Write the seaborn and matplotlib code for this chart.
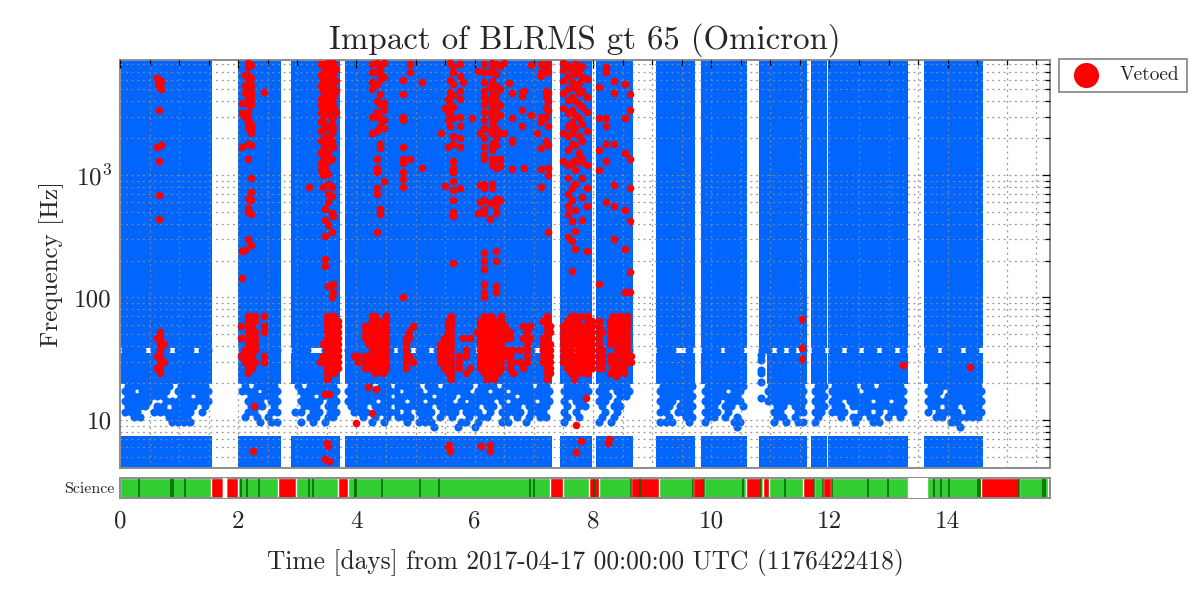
import matplotlib
matplotlib.use("Agg")
import matplotlib.pyplot as plt
import pandas as pd
import seaborn as sns
from matplotlib.ticker import FixedLocator, NullFormatter

# ---- blue triggers: time segments with data (days) ----
seg_start = [0.02, 2.00, 2.90, 3.80, 7.45, 8.05, 9.07, 9.83, 10.80, 11.69, 11.98, 13.60]
seg_end = [1.56, 2.72, 3.72, 7.31, 7.98, 8.68, 9.73, 10.60, 11.62, 11.95, 13.33, 14.60]
mid_start = [0.02, 2.00, 2.90, 3.80, 7.45, 8.05, 9.07, 9.83, 10.95, 11.69, 11.98, 13.60]
mid_end = [1.56, 2.72, 3.72, 7.31, 7.98, 8.68, 9.73, 10.60, 11.62, 11.95, 13.33, 14.60]

top_band_hz = (39.0, 9500)
mid_band_hz = (19.6, 35.5)
low_band_hz = (4.0, 7.4)

# occupancy of the patchy part, one row per frequency, 0.1 day per character
patchy_hz = [37, 19, 17.2, 15.6, 14.2, 12.9, 11.7, 10.6, 9.6, 8.8]
patchy_masks = [
    ["#### ### ### ###", "####### ", "###  ####", "#### ### ## ## ## #### ### ## ## ###", "## ###", "######", "###  ###", "### ####", "## # # ###", "###", "## ## ## ## ###", "## ### ## #"],
    ["######## #######", "# ######", "# #######", "#### ## #### ## ##### ### ##### ####", "######", "######", "#######", "########", " ########", "###", "#### ## #######", "###########"],
    ["## ##### #######", "### ####", " ########", "######### ### ####### ## ## #######", "######", "## ###", "#######", "#### ###", " ########", "###", "##### ########", "### #######"],
    ["#######  ## ####", " #######", " ## #####", "####### ###### ### ######### ######", "#####", "## ###", "#######", "###### #", " ########", "###", "###############", "## ########"],
    ["#####  ########", " ### ###", " #### ##", "##### #### ## #### # #### # #### ##", "# ##", "## #", "### ###", "### ####", " #######", "###", "## #### ## ####", "###########"],
    ["#### ## #### ## ", " ### ###", " ### ###", "### ### ###### ####### ## ### ####", "# ##", "# ##", "## ###", "## ## ##", "  ## ###", "## ", "## ###########", "## ## #####"],
    ["###  ####### #  ", " ##  ###", "## ## ##", " ### #### # ### ### ### # #### ###", "# # ", " # #", "## ###", "### #  #", "  ##  ##", "## ", "###  ## # ###", "# #### ###"],
    [" ##    ####     ", "# # # # ", "  ## ###", "  # # # ### ## # #  # ##  # # # ##", "# #", "# # ", " #  ###", "## # #", "  ## # #", "# ", " # ## ## # #", " ## ##### #"],
    ["        ####    ", "   # ## ", " # # #", "    # #   # ###    ## #   ##  #   ", "#", "# #", "###  ###", "#    ##", "  # # ##", "# ", "    #  ## ", "    ##  "],
    ["                ", "        ", "       ", "              #   #  #            ", " ", "   ", "     ", "     #", "       ", "  ", "          ", "     #    "],
]
# lone points left of the ninth segment's solid part
blue_extra_days = [10.85, 10.85, 10.85, 10.84, 10.85, 10.85]
blue_extra_hz = [34, 31, 25.5, 24, 20.5, 15]

# ---- red triggers above 100 Hz: (day, list of frequencies) ----
red_col_days = [0.63, 0.66, 0.70, 2.06, 2.12, 2.17, 2.22, 2.43, 3.20, 3.40, 3.44, 3.47, 3.52, 3.58, 3.61, 3.66,
                3.99, 4.15, 4.26, 4.34, 4.40, 4.46, 4.78, 4.90, 5.11, 5.43, 5.50, 5.55, 5.58, 5.63, 5.75, 5.80,
                5.95, 6.05, 6.09, 6.15, 6.26, 6.29, 6.36, 6.42, 6.49, 6.58, 6.63, 6.80, 6.84, 6.95, 7.05, 7.12,
                7.20, 7.24, 7.50, 7.57, 7.64, 7.70, 7.76, 7.82, 7.90, 8.10, 8.22, 8.35, 8.55, 8.63]
red_col_hz = [
    [6200, 1700], [5800, 5300, 3400, 1300, 690, 440], [5900, 5000, 1750],
    [3900, 3200, 1700, 240, 145], [6600, 5300, 4700, 3000, 245], [8300, 7600, 6600, 5700, 5000, 4300, 3800, 3300, 2900, 2700, 2400, 1800, 1350, 640, 540, 500, 300],
    [7900, 6200, 5400, 4900, 4500, 4100, 3700, 2600, 2400, 2200, 1750, 950, 730, 620, 480, 270], [4800],
    [800], [8000, 6600, 5300, 4200, 3700, 3200, 2700, 2300, 1900, 1500, 1250, 1100],
    [7800, 6000, 4900, 4000, 3400, 2800, 1600, 1300, 1000, 800], [8000, 7000, 5700, 4300, 3600, 3100, 2400, 2000, 1700, 1400, 1150, 530, 430, 320, 205, 180],
    [8300, 7200, 6200, 5200, 4600, 3900, 3300, 2500, 2100, 1800, 1500, 1300, 1020, 850, 700, 600, 390, 125],
    [7500, 6500, 5500, 4700, 4000, 3500, 2900, 2600, 2200, 1900, 1350, 800, 670, 490, 345, 100],
    [8200, 6800, 5000, 4300, 3700, 3000, 2400, 1700, 130, 110, 460], [7300, 5900, 4900, 3300], [],
    [],
    [8100, 6900, 5800, 5000, 3000, 2200], [8300, 7000, 5500, 4000, 3300, 3000, 2300, 1350, 1150, 1050, 790, 700, 340],
    [7900, 7100, 6100, 4600, 3800, 2900, 2500, 1800, 1650, 530, 480], [8200, 6300, 3900, 3400, 2800, 2400, 900],
    [6000, 4600, 3000, 2800, 1700, 1350, 1250, 1050, 920, 800, 100], [8000, 7000, 1350], [5700, 1150], [2200],
    [3500, 820], [4200, 3300, 2800, 1700], [8300, 6000, 4800, 3900, 3200, 2500], [7800, 7000, 5500, 4500, 3600, 2900, 2100, 1800, 1300, 1150, 1050, 900, 750, 620, 500, 460, 190],
    [8100, 6400, 4900, 4200, 3000, 2500, 2000, 1700, 780], [5800], [2900],
    [7100, 490], [2200, 830, 600], [8100, 7000, 5700, 4900, 4300, 3800, 3300, 2800, 2400, 2000, 1700, 1450, 1350, 850, 780, 630, 530, 490, 230, 200, 170, 130, 110, 100],
    [6900, 5200, 4100, 3200, 2300, 590, 440],
    [8200, 7300, 5900, 5000, 4400, 3900, 3500, 3000, 2600, 2200, 1800, 1600, 1350, 1200, 850, 780],
    [8000, 6700, 5300, 4600, 4000, 3400, 2900, 2400, 2000, 1750, 1350, 1150, 640, 560, 490, 240, 200, 125, 110],
    [7800, 5000, 3700, 3100, 2200, 1350, 1180, 620], [8300, 2200], [5600], [4700, 2900, 1950, 1850, 1120],
    [4800, 4400, 3400, 2500], [4900, 1150], [7900, 3100], [2200], [8000, 6900, 6500, 3000, 2700, 1650, 1120, 800],
    [7600, 4900, 4300, 3500, 3000, 1900], [8100, 7000, 4700, 4000, 3400, 2500, 1750, 1150, 1000, 340],
    [8200, 7200, 5900, 4700, 3500, 2200, 1300], [7800, 6500, 5000, 4100, 3200, 2500, 2100, 1600, 1200, 950, 700, 560, 480, 310],
    [7400, 5800, 4300, 3400, 2700, 2200, 1800, 1250, 790, 620, 420, 290, 165],
    [8000, 6700, 5100, 4000, 3100, 2400, 1750, 1320, 1100, 850, 520, 350, 250],
    [7200, 5600, 4700, 3800, 2900, 2100, 1500, 1280], [7700, 6300, 4900, 3600, 2600, 1900, 1350, 950, 660, 430],
    [6100, 4300, 3300, 2300, 1200, 780, 560, 240], [5200, 2900, 1600, 1100, 130],
    [7600, 7000, 2900, 2500, 1800, 1300, 600], [5900, 4700, 1800, 830, 560, 300], [5500, 2900, 1500, 520, 250, 110], [4600, 3400, 1350, 780, 420, 160, 110],
    [6600, 6000, 3000, 1100, 120],
]

# ---- red triggers 20-80 Hz, blocks with 0.06 day per character ----
red_low_hz = [70, 64, 58, 52, 47, 42, 37, 33, 30, 26.6, 24, 21.5]
red_block_start = [0.62, 2.05, 2.43, 3.38, 3.96, 4.14, 4.83, 5.42, 5.74, 6.03, 6.59, 6.76, 7.10, 7.50, 8.10]
red_blocks = [
    ["   ", "   ", "   ", " # ", "## ", " ##", " # ", "## ", " ##", "## ", " # ", "   "],
    ["  ###  ", "  ###  ", "# ##   ", "  ###  ", "# ###  ", "  ###  ", " ####  ", "####   ", " ####", "  ##  ", "  #   ", "      "],
    ["#", " ", "#", "#", " ", " ", " ", "#", "#", " ", " ", " "],
    ["  ### ", "  ####", "  ####", "  ####", "  ####", " #####", "  ####", " #####", "######", "  ####", "  ### ", "  #   "],
    ["  ", "  ", "  ", "  ", "  ", "  ", "  ", "##", " #", "  ", "  ", "  "],
    ["  ##  #", "  ### #", "#### ##", "#######", "## ####", " ######", "  #####", "#######", "#######", "#######", "   # # ", "       "],
    ["   ", "   ", "  #", " # ", "## ", "#  ", "#  ", "## ", "# #", "#  ", "   ", "   "],
    ["   #  ", "  ##  ", "  ##  ", "  ##  ", " ###  ", "####  ", "####  ", "####  ", "####  ", " ### ", "  ## ", "   # "],
    ["     ", "     ", "     ", "     ", " # #", "    ", "  #", "# #", "#  ", "#  #", "  #", "    "],
    ["  # #  # ", " ####### ", " ########", "#########", " ########", " ####### ", " ########", " ########", " ####### ", " ####### ", "  #####  ", "   # #   "],
    ["  ", "  ", "  ", "# ", "# ", "  ", "##", "# ", "##", "# ", " #", "  "],
    ["      ", "      ", " # # ", "  #  ", " # # ", "  #  ", "# # ", "  # ", "# # ", " #  ", "  ", "  "],
    ["  # ", " ## ", "  ##", "  ##", " ## ", " ###", " ###", " ###", " ###", "  ##", "  ##", "  # "],
    ["  ## # # ", " ## #  ##", "### #####", "#########", "## ######", "#########", "### #####", "#########", "#########", " ########", "  # # ## ", "   #     "],
    ["    # # #", "#  # ####", "#  ### ##", "## #### #", "#  ### ##", "#  # ####", "##   ####", "## ### ###", "## ### ###", "##  # ##", "   # # # ", "     "],
]

# ---- isolated red triggers below 100 Hz ----
red_extra_days = [2.26, 2.25, 3.50, 3.51, 3.47, 3.54, 3.47, 3.54, 3.99, 4.20, 4.33, 4.26, 5.57, 5.55, 5.58, 6.10,
                  6.26, 6.26, 7.72, 7.89, 7.80, 7.72, 8.26, 8.27, 8.39, 11.54, 11.54, 11.54, 13.25, 14.37]
red_extra_hz = [13, 5.6, 6.5, 6.1, 4.8, 4.6, 16.3, 16.3, 9.5, 18.6, 18, 11.4, 6.2, 6.0, 5.6, 6.1,
                6.2, 5.6, 9.1, 15, 6.7, 5.5, 6.5, 7.0, 22.8, 67, 38.7, 31.5, 28, 27]

# ---- science segment bar ----
no_data_start = [1.75, 13.32]
no_data_end = [1.79, 13.65]
veto_start = [1.54, 1.80, 2.68, 3.68, 7.28, 7.94, 8.65, 9.70, 10.58, 10.88, 11.56, 11.89, 14.57, 15.69]
veto_end = [1.75, 2.00, 2.97, 3.86, 7.49, 8.11, 9.12, 9.88, 10.85, 10.97, 11.73, 12.02, 15.20, 15.73]
dark_lines = [0.32, 0.87, 0.89, 1.10, 2.05, 2.15, 2.35, 3.19, 3.27, 3.97, 4.00, 4.43, 5.08, 5.40, 6.93, 7.00,
              8.02, 8.65, 8.80, 9.70, 9.88, 10.54, 10.85, 11.25, 11.74, 11.89, 12.04, 12.66, 12.99, 13.76, 13.88, 14.03, 14.52, 14.54, 15.20, 15.62, 15.65]

TITLE = "Impact of BLRMS gt 65 (Omicron)"
XLABEL = "Time [days] from 2017-04-17 00:00:00 UTC (1176422418)"

BLUE = "#0066ff"
RED = "#ff0000"
GREEN = "#32cd32"
SPINE = "#8c8c8c"

sns.set_theme(style="white")
plt.rcParams["font.family"] = ["cmr10"]
plt.rcParams["mathtext.fontset"] = "cm"
plt.rcParams["axes.formatter.use_mathtext"] = True

# build the point tables from the lists above
blue_rows = []
for row, hz in enumerate(patchy_hz):
    for seg, mask in enumerate(patchy_masks[row]):
        for col, ch in enumerate(mask):
            day = seg_start[seg] + 0.06 + 0.05 * (row % 2) + 0.1 * col
            # markers stay inside their segment, the gaps between segments are empty
            if ch == "#" and day <= seg_end[seg] - 0.04:
                blue_rows.append((day, hz))
blue_rows += list(zip(blue_extra_days, blue_extra_hz))
blue_df = pd.DataFrame(blue_rows, columns=["day", "hz"])

red_rows = []
for d, freqs in zip(red_col_days, red_col_hz):
    red_rows += [(d, f) for f in freqs]
for start, block in zip(red_block_start, red_blocks):
    for hz, mask in zip(red_low_hz, block):
        for col, ch in enumerate(mask):
            if ch == "#":
                red_rows.append((start + 0.06 * col, hz))
red_rows += list(zip(red_extra_days, red_extra_hz))
red_df = pd.DataFrame(red_rows, columns=["day", "hz"])

fig = plt.figure(figsize=(12, 6), dpi=100)
ax = fig.add_axes([120 / 1200, 1 - 468 / 600, 930 / 1200, 408 / 600])
sci = fig.add_axes([120 / 1200, 1 - 498 / 600, 930 / 1200, 20 / 600])

ax.set_yscale("log")
for low, high, starts, ends in [(*top_band_hz, seg_start, seg_end),
                                (*mid_band_hz, mid_start, mid_end),
                                (*low_band_hz, seg_start, seg_end)]:
    for s, e in zip(starts, ends):
        ax.bar(s, high - low, width=e - s, bottom=low, align="edge", color=BLUE, linewidth=0, zorder=1)

sns.scatterplot(data=blue_df, x="day", y="hz", ax=ax, s=34, color=BLUE, linewidth=0, zorder=1.5, legend=False)
sns.scatterplot(data=red_df, x="day", y="hz", ax=ax, s=30, color=RED, linewidth=0, zorder=3, label="Vetoed")

ax.set_xlim(0, 15.73)
ax.set_ylim(4.05, 8700)
ax.set_yticks([10, 100, 1000])
ax.set_yticklabels(["10", "100", r"$10^{3}$"], fontsize=18)
ax.yaxis.set_minor_locator(FixedLocator([m * 10 ** e for e in range(0, 4) for m in range(2, 10)]))
ax.yaxis.set_minor_formatter(NullFormatter())
ax.set_xticks(range(0, 16, 2))
ax.set_xticks([d / 2 for d in range(0, 32) if d % 4], minor=True)
ax.tick_params(labelbottom=False)
ax.set_axisbelow(False)
ax.grid(True, which="both", color="#8a8a8a", linestyle=(0, (1.5, 3)), linewidth=0.9, alpha=0.9)
ax.set_xlabel("")
ax.set_ylabel("Frequency [Hz]", fontsize=18, labelpad=7)
ax.set_title(TITLE, fontsize=23.7, pad=8)

# science bar
sci.broken_barh([(0, 15.73)], (0, 1), facecolor=GREEN, zorder=1)
sci.broken_barh([(s, e - s) for s, e in zip(veto_start, veto_end)], (0, 1), facecolor=RED, zorder=2)
sci.broken_barh([(s, e - s) for s, e in zip(no_data_start, no_data_end)], (0, 1), facecolor="white", zorder=3)
sci.vlines(dark_lines, 0, 1, color="#006400", linewidth=1.1, zorder=2.5)
sci.set_xlim(0, 15.73)
sci.set_ylim(0, 1)
sci.set_yticks([0.5])
sci.set_yticklabels(["Science"], fontsize=11.5)
sci.set_xticks(range(0, 16, 2))
sci.set_xticks([d / 2 for d in range(0, 32) if d % 4], minor=True)
sci.set_xticklabels([str(d) for d in range(0, 16, 2)], fontsize=18)
sci.set_xlabel(XLABEL, fontsize=18.3, labelpad=12)

for a in (ax, sci):
    for sp in a.spines.values():
        sp.set_color(SPINE)
        sp.set_linewidth(1.4)
    a.tick_params(which="major", direction="in", top=True, right=True, length=6, width=0.9, color="black")
    a.tick_params(which="minor", direction="in", top=True, right=True, length=3.5, width=0.9, color="black")
sci.tick_params(axis="y", which="both", length=0)
sci.tick_params(axis="y", pad=4)
sci.tick_params(axis="x", pad=9)
ax.tick_params(axis="y", pad=6)

leg = ax.legend(loc="upper left", bbox_to_anchor=(1.0095, 1.003), markerscale=3.3, fontsize=14,
                frameon=True, fancybox=False, edgecolor=SPINE, framealpha=1, borderaxespad=0, handletextpad=0.75, borderpad=0.4)
leg.get_frame().set_linewidth(1.3)

fig.savefig("out.png", dpi=100)
